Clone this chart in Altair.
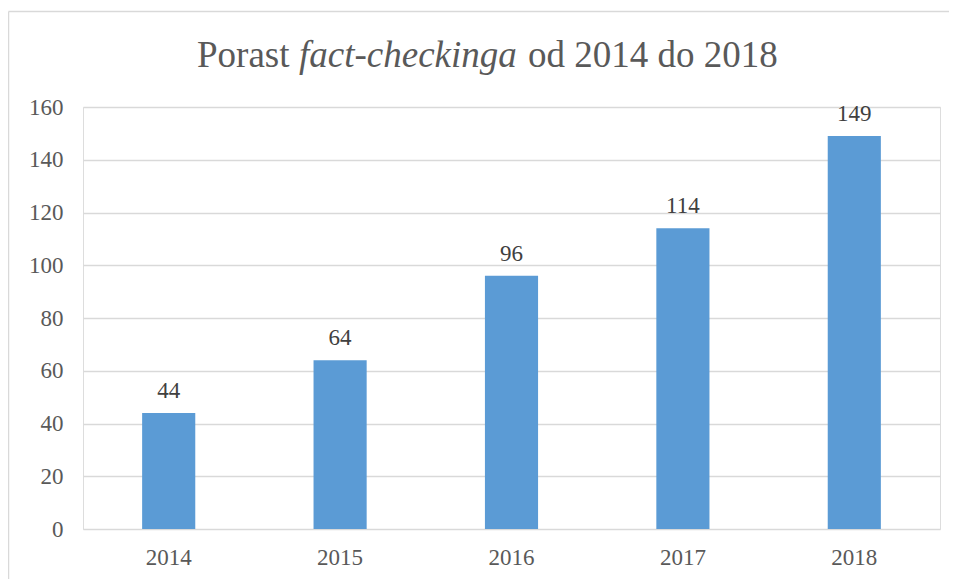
import altair as alt
import pandas as pd

years = ["2014", "2015", "2016", "2017", "2018"]
counts = [44, 64, 96, 114, 149]
title_parts = ["Porast", "fact-checkinga", "od 2014 do 2018"]
title_styles = ["normal", "italic", "normal"]
y_ticks = [0, 20, 40, 60, 80, 100, 120, 140, 160]

df = pd.DataFrame({"year": years, "count": counts})

FONT = "Liberation Serif"
GRAY = "#595959"
W, H = 857, 422
TS = 37
title_x = [114, 216, 445]

x_enc = alt.X("year:N", sort=years, title=None,
              scale=alt.Scale(paddingInner=0.69, paddingOuter=0.345),
              axis=alt.Axis(labelAngle=0, labelFont=FONT, labelFontSize=23,
                            labelColor=GRAY, ticks=False, domain=False,
                            labelPadding=17, grid=False))
y_enc = alt.Y("count:Q", title=None,
              scale=alt.Scale(domain=[0, 160], nice=False),
              axis=alt.Axis(values=y_ticks, labelFont=FONT, labelFontSize=23,
                            labelColor=GRAY, ticks=False, domain=False,
                            labelPadding=20, gridColor="#d9d9d9", gridWidth=1.3))

base = alt.Chart(df)
bars = base.mark_bar(color="#5B9BD5").encode(x=x_enc, y=y_enc)
labels = base.mark_text(font=FONT, fontSize=23, color="#404040",
                        baseline="alphabetic", dy=-15).encode(
    x=alt.X("year:N", sort=years), y="count:Q", text="count:Q")

title_layers = []
for txt, sty, xp in zip(title_parts, title_styles, title_x):
    title_layers.append(
        alt.Chart(pd.DataFrame({"t": [txt]})).mark_text(
            font=FONT, fontSize=TS, color=GRAY, fontStyle=sty,
            align="left", baseline="alphabetic").encode(
            text="t:N", x=alt.value(xp), y=alt.value(-40))
    )

dummy = pd.DataFrame({"a": [0]})
frame_top = alt.Chart(dummy).mark_rule(color="#d9d9d9", strokeWidth=1.5).encode(
    x=alt.value(-74.5), x2=alt.value(W + 60), y=alt.value(-95.5))
frame_left = alt.Chart(dummy).mark_rule(color="#d9d9d9", strokeWidth=1.5).encode(
    x=alt.value(-74.5), y=alt.value(-95.5), y2=alt.value(H + 80))

chart = alt.layer(frame_top, frame_left, bars, labels, *title_layers).properties(
    width=W, height=H,
    autosize=alt.AutoSizeParams(type="none"),
    padding={"left": 75, "top": 99, "right": 9, "bottom": 50},
).configure_view(
    strokeWidth=0
).configure(background="white")

chart.save("out.html", embed_options={"renderer": "svg", "actions": False})
